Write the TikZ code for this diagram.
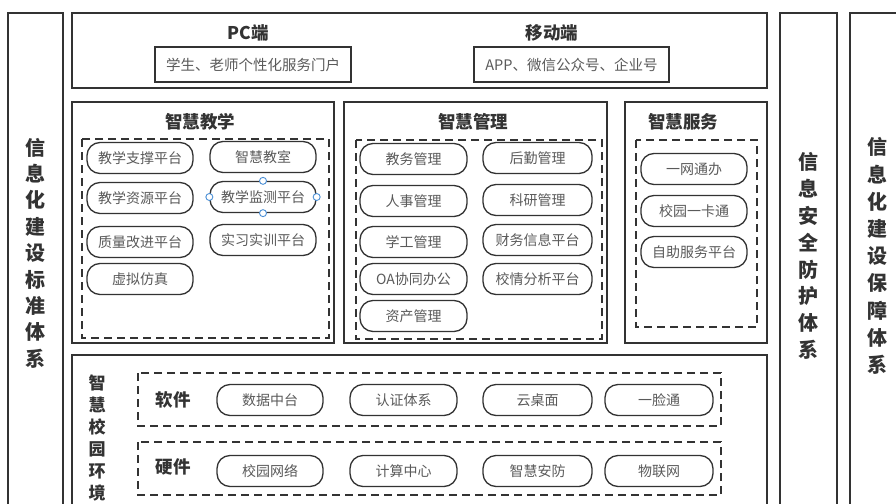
\documentclass[tikz,border=0pt]{standalone}
\usepackage{fontspec}
\setmainfont{Noto Sans CJK SC}
\definecolor{edge}{HTML}{333333}
\definecolor{txt}{HTML}{5A5A5A}
\definecolor{handle}{HTML}{4A8FD6}
\tikzset{
  frame/.style={draw=edge, line width=1.7pt},
  dbox/.style={draw=edge, line width=1.7pt, dash pattern=on 8pt off 5pt},
  pill/.style={draw=edge, line width=1.3pt, rounded corners=13pt, minimum height=31pt, text=txt, font=\fontsize{14}{16}\selectfont, inner sep=0pt},
  plainbox/.style={draw=edge, line width=1.5pt, minimum height=35pt, text=txt, font=\fontsize{14.5}{16}\selectfont, inner sep=0pt},
  title/.style={text=edge, font=\fontsize{17.5}{19}\selectfont\bfseries, inner sep=0pt},
  vtext/.style={text=edge, align=center, inner sep=0pt},
  hdl/.style={circle, draw=handle, fill=white, line width=0.9pt, minimum size=7pt, inner sep=0pt}
}
\begin{document}
\begin{tikzpicture}[x=1pt,y=-1pt]
\useasboundingbox (0,0) rectangle (896,503);
\clip (0,0) rectangle (896,503);
\fill[white] (0,0) rectangle (896,503);
% side columns
\draw[frame] (8,13) rectangle (63,515);
\draw[frame] (780,13) rectangle (837,515);
\draw[frame] (850,13) rectangle (910,515);
\node[vtext, font=\fontsize{20}{26.4}\selectfont\bfseries] (stdcol) at (35,253) {信\\息\\化\\建\\设\\标\\准\\体\\系};
\node[vtext, font=\fontsize{20}{26.9}\selectfont\bfseries] (seccol) at (808.5,256) {信\\息\\安\\全\\防\\护\\体\\系};
\node[vtext, font=\fontsize{20}{27.2}\selectfont\bfseries] (guacol) at (877,256) {信\\息\\化\\建\\设\\保\\障\\体\\系};
% top access layer
\draw[frame] (72,13) rectangle (767,88);
\node[title] (pc) at (248,33) {PC端};
\node[title] (mob) at (552,33) {移动端};
\node[plainbox, minimum width=196pt] (portal) at (253,64.5) {学生、老师个性化服务门户};
\node[plainbox, minimum width=195pt] (app) at (571.5,64.5) {APP、微信公众号、企业号};
% smart teaching
\draw[frame] (72,102) rectangle (334,343);
\draw[dbox] (82,139) rectangle (329,338);
\node[title] (teach) at (200,122) {智慧教学};
\node[pill, minimum width=106pt] (t1) at (140,158) {教学支撑平台};
\node[pill, minimum width=106pt] (t2) at (140,198) {教学资源平台};
\node[pill, minimum width=106pt] (t3) at (140,242) {质量改进平台};
\node[pill, minimum width=106pt] (t4) at (140,279) {虚拟仿真};
\node[pill, minimum width=106pt] (t5) at (263,157) {智慧教室};
\node[pill, minimum width=106pt] (t6) at (263,197) {教学监测平台};
\node[pill, minimum width=106pt] (t7) at (263,240) {实习实训平台};
\node[hdl] (h1) at (t6.north) {};
\node[hdl] (h2) at (t6.south) {};
\node[hdl] (h3) at (t6.west) {};
\node[hdl] (h4) at (t6.east) {};
% smart management
\draw[frame] (344,102) rectangle (607,343);
\draw[dbox] (356,140) rectangle (602,339);
\node[title] (mgmt) at (473,122) {智慧管理};
\node[pill, minimum width=107pt] (m1) at (413.5,159) {教务管理};
\node[pill, minimum width=107pt] (m2) at (413.5,201) {人事管理};
\node[pill, minimum width=107pt] (m3) at (413.5,242) {学工管理};
\node[pill, minimum width=107pt] (m4) at (413.5,279) {OA协同办公};
\node[pill, minimum width=107pt] (m5) at (413.5,316) {资产管理};
\node[pill, minimum width=109pt] (m6) at (537.5,158) {后勤管理};
\node[pill, minimum width=109pt] (m7) at (537.5,200) {科研管理};
\node[pill, minimum width=109pt] (m8) at (537.5,240) {财务信息平台};
\node[pill, minimum width=109pt] (m9) at (537.5,279) {校情分析平台};
% smart services
\draw[frame] (625,102) rectangle (767,343);
\draw[dbox] (636,140) rectangle (757,327);
\node[title] (serv) at (683,122) {智慧服务};
\node[pill, minimum width=106pt] (s1) at (694,169) {一网通办};
\node[pill, minimum width=106pt] (s2) at (694,211) {校园一卡通};
\node[pill, minimum width=106pt] (s3) at (694,252) {自助服务平台};
% campus environment
\draw[frame] (72,355) rectangle (767,515);
\node[vtext, font=\fontsize{17}{22}\selectfont\bfseries] (env) at (97,438) {智\\慧\\校\\园\\环\\境};
\draw[dbox] (138,373) rectangle (721,426);
\draw[dbox] (138,442) rectangle (721,495);
\node[title] (soft) at (173,400) {软件};
\node[title] (hard) at (173,467) {硬件};
\node[pill, minimum width=106pt] (a1) at (270,400) {数据中台};
\node[pill, minimum width=107pt] (a2) at (403.5,400) {认证体系};
\node[pill, minimum width=109pt] (a3) at (537.5,400) {云桌面};
\node[pill, minimum width=108pt] (a4) at (659,400) {一脸通};
\node[pill, minimum width=106pt] (b1) at (270,471) {校园网络};
\node[pill, minimum width=107pt] (b2) at (403.5,471) {计算中心};
\node[pill, minimum width=109pt] (b3) at (537.5,471) {智慧安防};
\node[pill, minimum width=108pt] (b4) at (659,471) {物联网};
\end{tikzpicture}
\end{document}
